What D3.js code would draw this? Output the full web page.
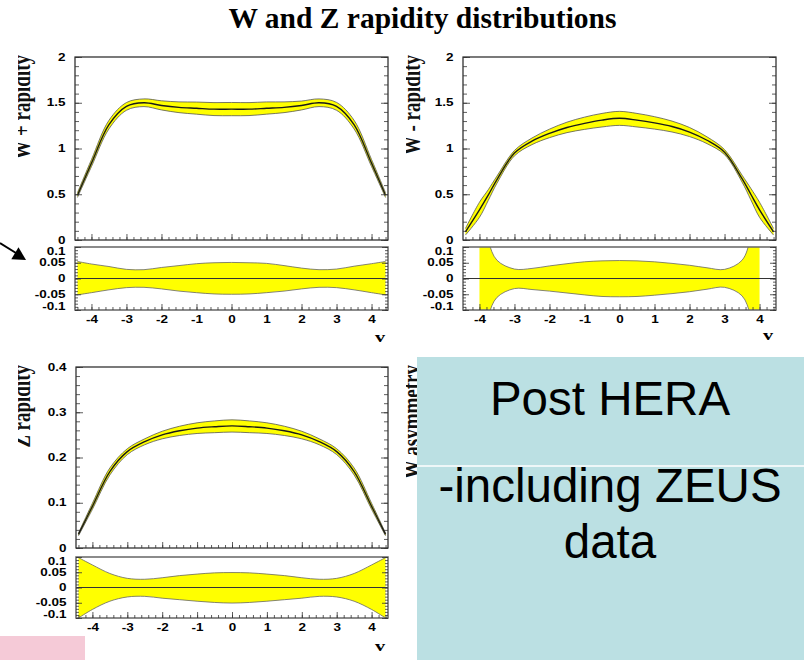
<!DOCTYPE html>
<html>
<head>
<meta charset="utf-8">
<script src="https://cdn.jsdelivr.net/npm/d3@7"></script>
<style>
  body { margin: 0; background: #fff; }
  svg { display: block; }
</style>
</head>
<body>
<svg id="chart" width="804" height="660"></svg>
<script>
// Rapidity grid used for W+ and Z
const rapidity = [-4.4, -4, -3.5, -3, -2.5, -2, -1.5, -1, -0.5, 0, 0.5, 1, 1.5, 2, 2.5, 3, 3.5, 4, 4.4];

// W+ rapidity: central value and relative uncertainty (upper / lower)
const wPlusCentral = [0.49, 0.84, 1.26, 1.46, 1.50, 1.47, 1.45, 1.44, 1.43, 1.43, 1.43, 1.44, 1.45, 1.47, 1.50, 1.46, 1.26, 0.84, 0.49];
const wPlusUp = [0.054, 0.046, 0.038, 0.029, 0.028, 0.035, 0.041, 0.047, 0.050, 0.051, 0.050, 0.048, 0.041, 0.033, 0.028, 0.030, 0.039, 0.047, 0.054];
const wPlusDown = [-0.052, -0.045, -0.036, -0.029, -0.028, -0.033, -0.040, -0.045, -0.049, -0.050, -0.049, -0.045, -0.040, -0.033, -0.028, -0.029, -0.036, -0.045, -0.052];

// W- rapidity has a finer grid near the edges
const wMinusRapidity = [-4.4, -4, -3.75, -3.5, -3, -2.5, -2, -1.5, -1, -0.5, 0, 0.5, 1, 1.5, 2, 2.5, 3, 3.5, 3.75, 4, 4.4];
const wMinusCentral = [0.09, 0.33, 0.49, 0.66, 0.95, 1.08, 1.165, 1.23, 1.275, 1.31, 1.33, 1.31, 1.28, 1.24, 1.18, 1.09, 0.96, 0.67, 0.50, 0.33, 0.09];
const wMinusUp = [0.40, 0.25, 0.12, 0.058, 0.030, 0.032, 0.040, 0.047, 0.053, 0.056, 0.057, 0.056, 0.053, 0.048, 0.042, 0.034, 0.029, 0.058, 0.13, 0.25, 0.40];
const wMinusDown = [-0.40, -0.25, -0.12, -0.06, -0.032, -0.035, -0.040, -0.046, -0.052, -0.057, -0.058, -0.057, -0.053, -0.048, -0.042, -0.034, -0.028, -0.055, -0.12, -0.25, -0.40];

// Z rapidity
const zCentral = [0.03, 0.092, 0.169, 0.213, 0.235, 0.25, 0.259, 0.265, 0.268, 0.27, 0.268, 0.265, 0.259, 0.25, 0.235, 0.213, 0.169, 0.092, 0.03];
const zUp = [0.098, 0.074, 0.046, 0.030, 0.027, 0.032, 0.039, 0.044, 0.048, 0.049, 0.048, 0.044, 0.039, 0.032, 0.027, 0.030, 0.046, 0.074, 0.098];
const zDown = [-0.10, -0.072, -0.045, -0.031, -0.029, -0.035, -0.040, -0.045, -0.049, -0.051, -0.049, -0.045, -0.040, -0.035, -0.029, -0.031, -0.045, -0.072, -0.10];

// Tick labels
const xTicks = [-4, -3, -2, -1, 0, 1, 2, 3, 4];
const wTicks = [0, 0.5, 1, 1.5, 2];
const zTicks = [0, 0.1, 0.2, 0.3, 0.4];
const ratioTicks = [-0.1, -0.05, 0, 0.05, 0.1];

const serif = '"Liberation Serif", "DejaVu Serif", serif';
const stretch = 1.35;
const labelSize = 13.5;
const curve = d3.curveCatmullRom.alpha(0.5);
const svg = d3.select('#chart');
let clipCount = 0;

function addClip(x, y, w, h) {
  const id = 'clip' + (clipCount++);
  svg.append('clipPath').attr('id', id)
    .append('rect').attr('x', x).attr('y', y).attr('width', w).attr('height', h);
  return 'url(#' + id + ')';
}

function tickComb(axisFn, scale, values, size, tx, ty) {
  svg.append('g')
    .attr('transform', 'translate(' + tx + ',' + ty + ')')
    .call(axisFn(scale).tickValues(values).tickSize(size).tickFormat(''))
    .call(g => g.select('.domain').remove())
    .selectAll('line').attr('stroke', '#333').attr('stroke-width', 0.8);
}

function drawPanel(p) {
  const x = d3.scaleLinear().domain([-4.47, 4.47]).range([p.left, p.right]);
  const y = d3.scaleLinear().domain(p.yDomain).range([p.mainBottom, p.mainTop]);
  const yr = d3.scaleLinear().domain([-0.1, 0.1]).range([p.ratioBottom, p.ratioTop]);
  const pts = p.xs.map((v, i) => ({x: v, c: p.central[i], u: p.up[i], d: p.down[i]}));
  const minorX = d3.range(-4.4, 4.41, 0.2);

  // main panel
  const main = svg.append('g')
    .attr('clip-path', addClip(p.left, p.mainTop, p.right - p.left, p.mainBottom - p.mainTop));
  main.append('path').datum(pts)
    .attr('fill', '#ffff00')
    .attr('d', d3.area().x(d => x(d.x))
      .y0(d => y(d.c * (1 + d.d))).y1(d => y(d.c * (1 + d.u))).curve(curve));
  [d => d.c * (1 + d.u), d => d.c * (1 + d.d)].forEach(f => {
    main.append('path').datum(pts)
      .attr('fill', 'none').attr('stroke', '#555').attr('stroke-width', 0.8)
      .attr('d', d3.line().x(d => x(d.x)).y(d => y(f(d))).curve(curve));
  });
  main.append('path').datum(pts)
    .attr('fill', 'none').attr('stroke', '#1a1a1a').attr('stroke-width', 1.4)
    .attr('d', d3.line().x(d => x(d.x)).y(d => y(d.c)).curve(curve));

  svg.append('rect')
    .attr('x', p.left).attr('y', p.mainTop)
    .attr('width', p.right - p.left).attr('height', p.mainBottom - p.mainTop)
    .attr('fill', 'none').attr('stroke', '#222').attr('stroke-width', 1.2);

  const yMinor = d3.range(p.yDomain[0], p.yDomain[1] + 1e-9, p.yMinorStep);
  tickComb(d3.axisLeft, y, p.yTicks, -7, p.left, 0);
  tickComb(d3.axisLeft, y, yMinor, -4, p.left, 0);
  tickComb(d3.axisRight, y, p.yTicks, -7, p.right, 0);
  tickComb(d3.axisRight, y, yMinor, -4, p.right, 0);
  tickComb(d3.axisBottom, x, xTicks, -6, 0, p.mainBottom);
  tickComb(d3.axisBottom, x, minorX, -3, 0, p.mainBottom);

  svg.append('g')
    .attr('transform', 'translate(' + p.left + ',0)')
    .attr('font-family', serif).attr('font-size', labelSize).attr('font-weight', 'bold')
    .call(d3.axisLeft(y).tickValues(p.yTicks).tickSize(0).tickPadding(7).tickFormat(d => String(d)))
    .call(g => g.select('.domain').remove())
    .selectAll('text').attr('transform', 'scale(' + stretch + ',1)');

  // ratio panel
  const rx0 = p.ratioRange ? x(p.ratioRange[0]) : p.left;
  const rx1 = p.ratioRange ? x(p.ratioRange[1]) : p.right;
  const ratio = svg.append('g')
    .attr('clip-path', addClip(rx0, p.ratioTop, rx1 - rx0, p.ratioBottom - p.ratioTop));
  ratio.append('path').datum(pts)
    .attr('fill', '#ffff00')
    .attr('d', d3.area().x(d => x(d.x)).y0(d => yr(d.d)).y1(d => yr(d.u)).curve(curve));
  ['u', 'd'].forEach(k => {
    ratio.append('path').datum(pts)
      .attr('fill', 'none').attr('stroke', '#666').attr('stroke-width', 0.8)
      .attr('d', d3.line().x(d => x(d.x)).y(d => yr(d[k])).curve(curve));
  });
  svg.append('line')
    .attr('x1', p.left).attr('x2', p.right)
    .attr('y1', yr(0)).attr('y2', yr(0))
    .attr('stroke', '#333').attr('stroke-width', 1.2);

  svg.append('rect')
    .attr('x', p.left).attr('y', p.ratioTop)
    .attr('width', p.right - p.left).attr('height', p.ratioBottom - p.ratioTop)
    .attr('fill', 'none').attr('stroke', '#666').attr('stroke-width', 1.5);

  const rMinor = d3.range(-0.1, 0.1001, 0.01);
  tickComb(d3.axisLeft, yr, ratioTicks, -6, p.left, 0);
  tickComb(d3.axisLeft, yr, rMinor, -3, p.left, 0);
  tickComb(d3.axisRight, yr, ratioTicks, -6, p.right, 0);
  tickComb(d3.axisRight, yr, rMinor, -3, p.right, 0);
  tickComb(d3.axisBottom, x, xTicks, -6, 0, p.ratioBottom);
  tickComb(d3.axisBottom, x, minorX, -3, 0, p.ratioBottom);

  svg.append('g')
    .attr('transform', 'translate(' + p.left + ',0)')
    .attr('font-family', serif).attr('font-size', labelSize).attr('font-weight', 'bold')
    .call(d3.axisLeft(yr).tickValues(ratioTicks).tickSize(0).tickPadding(7).tickFormat(d => String(d)))
    .call(g => g.select('.domain').remove())
    .selectAll('text')
    .attr('dy', d => d === 0.1 ? '0.7em' : d === -0.1 ? '-0.06em' : '0.32em')
    .attr('transform', 'scale(' + stretch + ',1)');

  svg.append('g')
    .attr('transform', 'translate(0,' + p.ratioBottom + ')')
    .attr('font-family', serif).attr('font-size', labelSize).attr('font-weight', 'bold')
    .call(d3.axisBottom(x).tickValues(xTicks).tickSize(0).tickPadding(6).tickFormat(d => String(d)))
    .call(g => g.select('.domain').remove())
    .selectAll('text').attr('transform', 'scale(' + stretch + ',1)');

  // axis titles
  svg.append('text')
    .attr('transform', 'translate(' + (p.right - 8) + ',' + p.vY + ') scale(' + stretch + ',1)')
    .attr('text-anchor', 'middle')
    .attr('font-family', serif).attr('font-size', 15).attr('font-weight', 'bold')
    .text('v');
  drawYTitle(p.titleX, p.mainTop - 2, p.titleClip, p.yTitle);
}

function drawYTitle(bx, topY, clipX, label) {
  svg.append('g')
    .attr('clip-path', addClip(clipX, 0, 200, 660))
    .append('text')
    .attr('transform', 'translate(' + bx + ',' + topY + ') rotate(-90) scale(1,1.35)')
    .attr('text-anchor', 'end')
    .attr('font-family', serif).attr('font-size', 19).attr('font-weight', 'bold')
    .attr('fill', '#111')
    .text(label);
}

// title
svg.append('text')
  .attr('x', 422.5).attr('y', 28)
  .attr('text-anchor', 'middle')
  .attr('font-family', serif).attr('font-size', 29.5).attr('font-weight', 'bold')
  .text('W and Z rapidity distributions');

drawPanel({
  left: 75, right: 388, mainTop: 57, mainBottom: 240, ratioTop: 247, ratioBottom: 310,
  xs: rapidity, central: wPlusCentral, up: wPlusUp, down: wPlusDown,
  yDomain: [0, 2], yTicks: wTicks, yMinorStep: 0.1,
  yTitle: 'W + rapidity', titleX: 30, titleClip: 18, vY: 342
});

drawPanel({
  left: 463, right: 776, mainTop: 57, mainBottom: 240, ratioTop: 247, ratioBottom: 310,
  xs: wMinusRapidity, central: wMinusCentral, up: wMinusUp, down: wMinusDown,
  yDomain: [0, 2], yTicks: wTicks, yMinorStep: 0.1, ratioRange: [-4, 4],
  yTitle: 'W - rapidity', titleX: 420, titleClip: 406, vY: 340
});

drawPanel({
  left: 76, right: 388, mainTop: 367, mainBottom: 548, ratioTop: 557, ratioBottom: 618,
  xs: rapidity, central: zCentral, up: zUp, down: zDown,
  yDomain: [0, 0.4], yTicks: zTicks, yMinorStep: 0.02,
  yTitle: 'Z rapidity', titleX: 30, titleClip: 18, vY: 651
});

// hidden W asymmetry panel: only the title peeks out from behind the box
drawYTitle(420, 365, 406, 'W asymmetry');

// slide overlay box
svg.append('rect')
  .attr('x', 417).attr('y', 357).attr('width', 387).attr('height', 303)
  .attr('fill', '#bbe0e3');
svg.append('line')
  .attr('x1', 417).attr('x2', 804).attr('y1', 466).attr('y2', 466)
  .attr('stroke', '#fff').attr('stroke-width', 1.5);

const boxLines = [['Post HERA', 415], ['-including ZEUS', 502], ['data', 558]];
svg.selectAll('text.box')
  .data(boxLines)
  .enter().append('text')
  .attr('class', 'box')
  .attr('x', 610).attr('y', d => d[1])
  .attr('text-anchor', 'middle')
  .attr('font-family', '"Liberation Sans", Arial, sans-serif')
  .attr('font-size', 47.5)
  .attr('fill', '#000')
  .text(d => d[0]);

svg.append('rect')
  .attr('x', 0).attr('y', 636).attr('width', 85).attr('height', 24)
  .attr('fill', '#f5cad7');

// arrow pointing at the ratio panel
svg.append('line')
  .attr('x1', 0).attr('y1', 243).attr('x2', 16).attr('y2', 253)
  .attr('stroke', '#000').attr('stroke-width', 2);
svg.append('polygon')
  .attr('points', '26,260 11.3,259.3 18.5,247.3')
  .attr('fill', '#000');
</script>
</body>
</html>
